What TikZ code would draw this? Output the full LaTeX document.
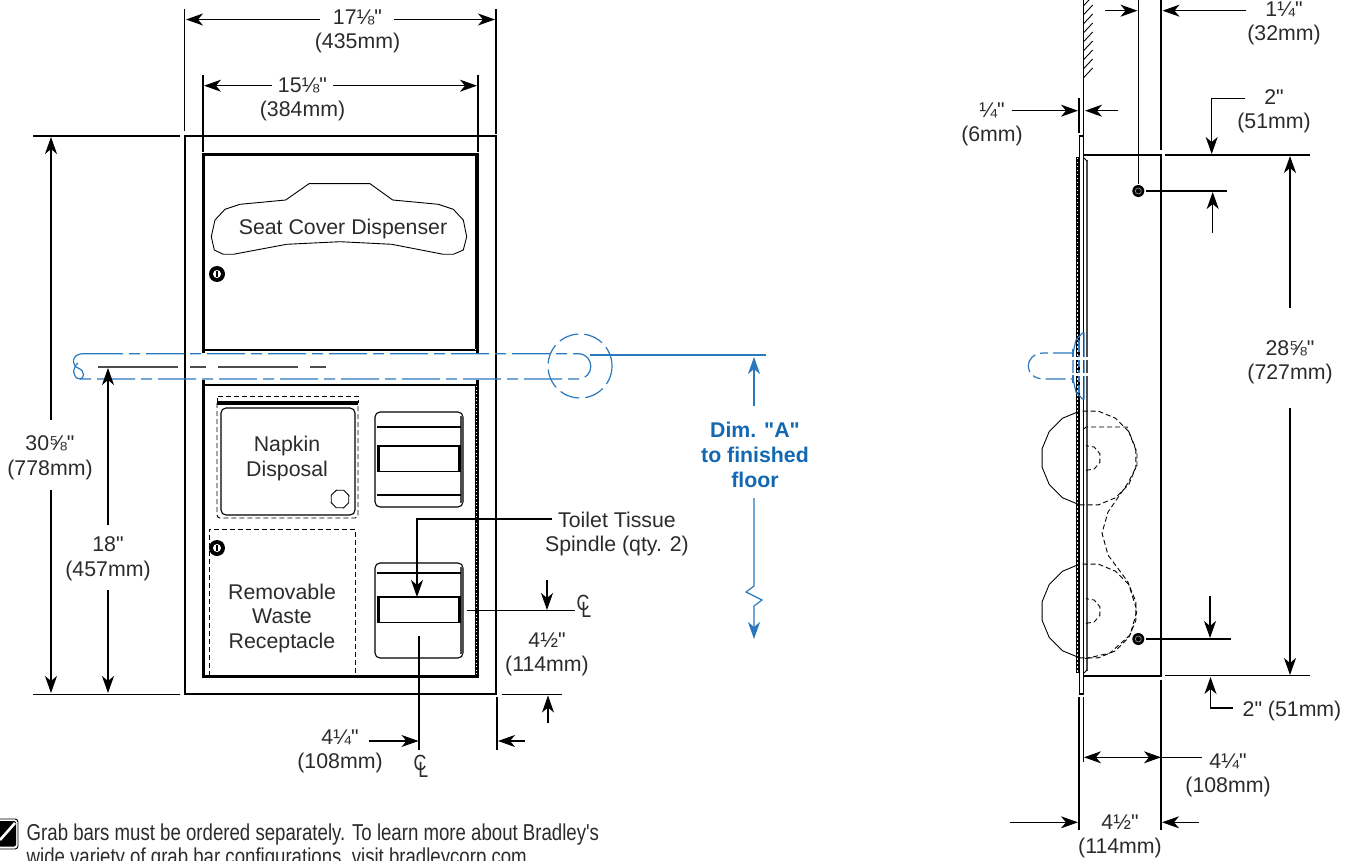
\documentclass[tikz,border=0pt]{standalone}
\usepackage{fontspec}
\setmainfont[Ligatures=TeXOff]{Liberation Sans}
\newfontfamily\notefont[Ligatures=TeXOff,FakeStretch=0.81]{Liberation Sans}
\usetikzlibrary{arrows.meta}
\definecolor{barblue}{HTML}{2A78BE}
\definecolor{textblue}{HTML}{1268B3}
\definecolor{inkgray}{HTML}{2B2B2B}
\tikzset{
	dim/.style={black, line width=1.1pt},
	lbl/.style={inner sep=0pt, align=center, yshift=-2pt, text=inkgray, font=\fontsize{21.3}{24.5}\selectfont},
	bluelbl/.style={inner sep=0pt, align=center, yshift=-2pt, text=textblue, font=\fontsize{21.3}{25}\selectfont\bfseries},
	clmark/.style={inner sep=0pt, text=inkgray, font=\fontsize{22}{22}\notefont},
	bar/.style={barblue, line width=1.2pt},
	bardash/.style={bar, dash pattern=on 38pt off 6pt on 11pt off 6pt},
	hidden/.style={black, line width=0.9pt, dash pattern=on 5pt off 3pt},
}
\newcommand{\clsign}{C\kern-8pt\raisebox{-7pt}{L}}
\begin{document}
\begin{tikzpicture}[x=1pt, y=-1pt, >={Stealth[length=17pt,width=12pt,inset=5pt]}]
	\useasboundingbox (0,0) rectangle (1355,861);
	% --- front view
	\draw[black, line width=2pt] (185,136) rectangle (496,694);
	\draw[black, line width=3pt] (203,353) -- (203,155) -- (477,155) -- (477,353);
	\draw[black, line width=2pt] (203,349.5) -- (477,349.5);
	\draw[black, line width=3pt] (203,380) -- (203,676) -- (477,676) -- (477,380);
	\draw[black, line width=2pt] (203,385) -- (477,385);
	\draw[white, line width=1pt, dash pattern=on 1pt off 2.5pt] (475.8,156) -- (475.8,349);
	\draw[black, line width=0.7pt] (475.2,156) -- (475.2,349);
	\draw[black, line width=0.7pt] (475.2,386) -- (475.2,675);
	\draw[white, line width=1pt, dash pattern=on 1pt off 2.5pt] (476,386) -- (476,675);
	% seat cover opening
	\draw[black, line width=0.9pt] (285.7,200) -- (309,183.7) -- (370,183.7) -- (392.7,200) -- (438.3,204.3)
		-- (453.3,209.3) -- (463.3,220) -- (466.7,236.7) -- (463.3,250) -- (453.3,254.3) -- (443.3,254.3)
		-- (391.7,244.3) -- (340,241.7) -- (286.7,244.3) -- (233.3,254.3) -- (223.3,254.3) -- (214.3,250)
		-- (211.3,236.7) -- (215,220) -- (225,209.3) -- (240,204.3) -- cycle;
	\node[lbl] (seatcover) at (343,227) {Seat Cover Dispenser};
	% locks
	\foreach \px/\py in {217/274, 217/548} {
		\fill[black] (\px,\py) circle (8pt);
		\fill[white] (\px,\py) circle (4pt);
		\draw[black, line width=1.4pt] (\px,\py-3) -- (\px,\py+3);
	}
	% napkin disposal
	\draw[hidden, rounded corners=3pt] (217,403) -- (217,518) -- (358,518) -- (358,403);
	\draw[hidden] (217,403) -- (217,396) -- (358,396) -- (358,403);
	\draw[black, line width=4pt] (217,403) -- (358,403);
	\draw[black, line width=1.1pt, rounded corners=5pt] (221,408) rectangle (355,515);
	\draw[black, line width=0.9pt, shift={(340,499)}] plot[samples at={0,45,...,315}] (\x+22:9.5pt) -- cycle;
	\node[lbl] (napkin) at (287,456.5) {Napkin\\Disposal};
	% waste receptacle
	\draw[hidden] (209,676) -- (209,529) -- (355,529) -- (355,676);
	\node[lbl] (waste) at (282,616) {Removable\\Waste\\Receptacle};
	% tissue spindles
	\foreach \yy in {0,151} {
		\draw[black, line width=1.1pt, rounded corners=5pt] (375,412+\yy) rectangle (463,507+\yy);
		\draw[black!70, line width=2.2pt] (461.5,416+\yy) -- (461.5,503+\yy);
		\draw[black, line width=1.1pt] (378,446+\yy) rectangle (460,471.5+\yy);
		\draw[black, line width=3pt] (378.5,446+\yy) -- (378.5,471.5+\yy);
		\draw[black, line width=3pt] (459.5,446+\yy) -- (459.5,471.5+\yy);
	}
	\draw[black, line width=1.1pt] (377,427) -- (461,427);
	\draw[black, line width=1.1pt] (377,495) -- (461,495);
	\draw[black, line width=1.1pt] (377,573) -- (461,573);
	% grab bar
	\draw[bardash] (85,353.7) -- (578,353.7) .. controls (595,353.7) and (595,379) .. (578,379) -- (80,379);
	\draw[bar] (85,353.7) .. controls (70,353) and (72,366) .. (78,368) .. controls (86,371) and (84,379) .. (80,379)
		.. controls (72,378) and (72,368) .. (78,363);
	\draw[bar, dash pattern=on 20pt off 6pt] (580,366) ++(32pt,0pt) arc[start angle=0, end angle=360, radius=32pt];
	\draw[bar] (590,355) -- (766,355);
	\draw[bar, ->] (754,406) -- (754,357);
	\draw[bar, ->] (754,498) -- (754,586) -- (746,592) -- (762,600) -- (754,606) -- (754,639);
	\node[bluelbl] (dima) at (755,453) {Dim. "A"\\to finished\\floor};
	% centre line of the bar
	\draw[black!70, line width=1.1pt, dash pattern=on 80pt off 12pt on 16pt off 12pt] (98,367) -- (326,367);
	% width
	\draw[dim] (184.5,9) -- (184.5,131);
	\draw[dim] (496,9) -- (496,134);
	\draw[dim, ->] (320,19.5) -- (186,19.5);
	\draw[dim, ->] (394,19.5) -- (495,19.5);
	\node[lbl] (wtop) at (357.5,29.5) {17⅛"\\(435mm)};
	\draw[dim] (203,75) -- (203,152);
	\draw[dim] (478,75) -- (478,152);
	\draw[dim, ->] (272,85.7) -- (204,85.7);
	\draw[dim, ->] (333,85.7) -- (477,85.7);
	\node[lbl] (wdoor) at (302.5,97.5) {15⅛"\\(384mm)};
	% height
	\draw[dim] (33,136) -- (180,136);
	\draw[dim] (33,694.5) -- (180,694.5);
	\draw[dim, ->] (51,420) -- (51,137);
	\draw[dim, ->] (51,490) -- (51,693);
	\node[lbl] (hall) at (50,456) {30⅝"\\(778mm)};
	\draw[dim, ->] (108,525) -- (108,368);
	\draw[dim, ->] (108,590) -- (108,693);
	\node[lbl] (hbar) at (108,557) {18"\\(457mm)};
	% spindle leader
	\draw[dim, ->] (552,519) -- (417,519) -- (417,597);
	\node[lbl] (spindle) at (617,532) {Toilet Tissue\\Spindle (qty. 2)};
	% spindle centre, vertical offset
	\draw[dim] (467,610.7) -- (575,610.7);
	\draw[dim, ->] (547,580) -- (547,610);
	\node[lbl] (offv) at (547,652.5) {4½"\\(114mm)};
	\draw[dim] (502,694.5) -- (562,694.5);
	\draw[dim, ->] (548,723) -- (548,695.5);
	\node[clmark] (clside) at (584,606) {\clsign};
	% spindle centre, horizontal offset
	\draw[dim] (419,636) -- (419,750);
	\draw[dim] (497,697) -- (497,750);
	\draw[dim, ->] (369,741) -- (418.5,741);
	\draw[dim, ->] (525,741) -- (498,741);
	\node[lbl] (offh) at (340,749.5) {4¼"\\(108mm)};
	\node[clmark] (clbot) at (421,766) {\clsign};
	% --- side view
	\draw[black, line width=1.1pt] (1083.3,0) -- (1083.3,136);
	\foreach \yy in {78,69,...,6} {
		\draw[black, line width=0.9pt] (1083.3,\yy) -- (1092.7,\yy-10);
	}
	\draw[black, line width=1.3pt] (1079.3,694) -- (1079.3,136) -- (1083.3,136) -- (1083.3,694) -- cycle;
	\draw[black, line width=3.4pt] (1077.7,157) -- (1077.7,673);
	\draw[white, line width=1pt, dash pattern=on 1.5pt off 2.5pt] (1077.7,158) -- (1077.7,672);
	\fill[black] (1075.5,266) rectangle (1077,278);
	\fill[black] (1075.5,541) rectangle (1077,553);
	\draw[black!70, line width=1.2pt] (1087,160) -- (1087,671);
	\draw[black, line width=0.9pt] (1084,158) -- (1087,161);
	\draw[black, line width=0.9pt] (1084,673) -- (1087,670);
	\draw[black, line width=2pt] (1083,155) -- (1161,155) -- (1161,675.5) -- (1083,675.5);
	% rolls
	\foreach \yy in {458,611} {
		\draw[black, line width=0.9pt, shift={(1089,\yy)}] plot[samples at={101.25,123.75,...,258.75}] (\x:47.8pt);
		\draw[hidden, shift={(1089,\yy)}] plot[samples at={-101.25,-78.75,...,101.25}] (\x:47.8pt);
		\draw[hidden, shift={(1088,\yy)}] plot[samples at={-100,-60,...,100}] (\x:12.6pt);
	}
	\draw[hidden] (1084,429) -- (1086,427) -- (1127,427) -- (1137,453) -- (1137,465) -- (1128,483) -- (1108,512)
		-- (1102,533) -- (1108,555) -- (1128,582) -- (1137,611) -- (1130,635) -- (1110,653) -- (1084,659);
	% grab bar, end on
	\draw[bar] (1076,340) -- (1082.5,333) -- (1084,333) -- (1084,399) -- (1082.5,399) -- (1076,392) -- (1073,379) -- (1073,353) -- cycle;
	\draw[bar, dash pattern=on 12pt off 3pt, line width=1.6pt] (1079,340) -- (1079,393);
	\draw[white, line width=3pt] (1071,358) -- (1090,358);
	\draw[white, line width=3pt] (1071,374) -- (1090,374);
	\draw[bar, dash pattern=on 20pt off 5pt on 8pt off 5pt] (1073,353) -- (1044,353) .. controls (1023,353) and (1023,379) .. (1044,379) -- (1073,379);
	\draw[bar] (1073,349) -- (1073,357);
	\draw[bar] (1073,375) -- (1073,383);
	% bolts
	\foreach \py/\pe in {191/1227, 639/1231} {
		\fill[black] (1138.3,\py) circle (6pt);
		\draw[black!45, line width=0.7pt] (1138.3,\py) circle (3pt);
		\draw[dim] (1146,\py) -- (\pe,\py);
	}
	\draw[dim] (1138.3,0) -- (1138.3,184);
	% wall to bolt
	\draw[dim] (1161,0) -- (1161,150);
	\draw[dim, ->] (1105,10.7) -- (1137.5,10.7);
	\draw[dim, ->] (1246,10.7) -- (1162.5,10.7);
	\node[lbl] (sbolt) at (1284,21.5) {1¼"\\(32mm)};
	% flange
	\draw[dim] (1079,98) -- (1079,133);
	\draw[dim, ->] (1012,110.7) -- (1078,110.7);
	\draw[dim, ->] (1118,110.7) -- (1085,110.7);
	\node[lbl] (sflange) at (992,122.5) {¼"\\(6mm)};
	% top bolt
	\draw[dim] (1165,155) -- (1310,155);
	\draw[dim, ->] (1245,98.3) -- (1211.7,98.3) -- (1211.7,154);
	\node[lbl] (stop) at (1274,109.5) {2"\\(51mm)};
	\draw[dim, ->] (1212.7,233) -- (1212.7,192);
	% box height
	\draw[dim, ->] (1290,308) -- (1290,156);
	\draw[dim, ->] (1290,408) -- (1290,675);
	\node[lbl] (sheight) at (1290,360.5) {28⅝"\\(727mm)};
	% bottom bolt
	\draw[dim] (1165,675.7) -- (1310,675.7);
	\draw[dim, ->] (1210,596) -- (1210,638);
	\draw[dim, ->] (1233,708) -- (1210.5,708) -- (1210.5,677);
	\node[lbl] (sbot) at (1292,709) {2" (51mm)};
	% depth
	\draw[dim] (1079,697) -- (1079,830);
	\draw[dim] (1083.5,697) -- (1083.5,762);
	\draw[dim] (1161,680) -- (1161,830);
	\draw[dim, <->] (1084,757.3) -- (1161,757.3);
	\draw[dim] (1161,757.3) -- (1202,757.3);
	\node[lbl] (sdepth) at (1228,773.5) {4¼"\\(108mm)};
	\draw[dim, ->] (1010,822.3) -- (1078,822.3);
	\draw[dim, ->] (1199,822.3) -- (1162,822.3);
	\node[lbl] (swide) at (1120,834.5) {4½"\\(114mm)};
	% --- note
	\draw[black, line width=0.9pt, rounded corners=3pt] (-3,819) rectangle (18,849);
	\fill[black, rounded corners=2pt] (-2,821) rectangle (16,846.5);
	\draw[white, line width=2.6pt] (0,840) -- (15,823);
	\node[inner sep=0pt, anchor=base west, text=inkgray, font=\fontsize{23}{24.5}\notefont] (note) at (26.5,840) {Grab bars must be ordered separately. To learn more about Bradley's};
	\node[inner sep=0pt, anchor=base west, text=inkgray, font=\fontsize{23}{24.5}\notefont] (note2) at (26.5,864.5) {wide variety of grab bar configurations, visit bradleycorp.com};
\end{tikzpicture}
\end{document}
